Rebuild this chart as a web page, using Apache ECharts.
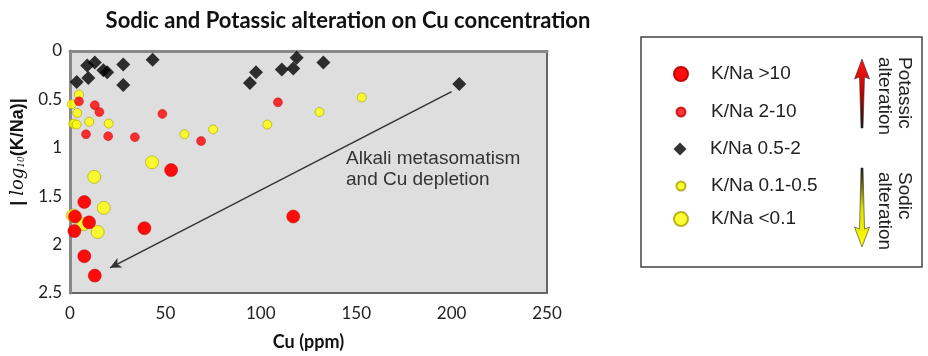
<!DOCTYPE html>
<html>
<head>
<meta charset="utf-8">
<script src="https://cdn.jsdelivr.net/npm/echarts@6/dist/echarts.min.js"></script>
<style>
  html, body { margin: 0; padding: 0; background: #fff; }
  #chart { width: 928px; height: 356px; }
</style>
</head>
<body>
<div id="chart"></div>
<script>
// Cu (ppm), |log10(K/Na)|
var bigRed = [[53, 1.23], [7.5, 1.56], [2.6, 1.71], [10, 1.77], [2.3, 1.86], [39, 1.83], [7.5, 2.12], [13, 2.32], [117, 1.71]];
var smallRed = [[4.7, 0.52], [13, 0.56], [15.4, 0.63], [8.4, 0.86], [20, 0.88], [34, 0.89], [48.4, 0.65], [68.7, 0.93], [109, 0.53]];
var diamonds = [[3.5, 0.32], [9, 0.15], [13, 0.12], [9.6, 0.28], [17.5, 0.2], [19.5, 0.22], [27.9, 0.14], [27.9, 0.35],
  [43.3, 0.09], [94.3, 0.33], [97.5, 0.22], [111, 0.19], [117, 0.18], [118.8, 0.07], [132.8, 0.12], [204, 0.34]];
var smallYellow = [[4.7, 0.45], [0.9, 0.55], [3.8, 0.64], [1.7, 0.75], [3.5, 0.76], [10.1, 0.73], [20.3, 0.75],
  [60, 0.86], [75, 0.81], [103.4, 0.76], [130.7, 0.63], [152.9, 0.48]];
var bigYellow = [[43, 1.15], [12.7, 1.3], [17.7, 1.62], [14.5, 1.87], [7, 1.79], [1.5, 1.7]];
var trendArrow = [[200, 0.42], [21, 2.24]];

var names = ["K/Na >10", "K/Na 2-10", "K/Na 0.5-2", "K/Na 0.1-0.5", "K/Na <0.1"];
var xTicks = [0, 50, 100, 150, 200, 250];
var yTicks = [0, 0.5, 1, 1.5, 2, 2.5];

var chart = echarts.init(document.getElementById("chart"));

// one legend per row so rows sit where the reference has them
var legendRows = [74, 112, 149, 186, 219];
var legendSizes = [14, 9, 13, 9, 14];
var legends = names.map(function (n, i) {
  var s = legendSizes[i];
  return {
    data: [n],
    orient: "vertical",
    padding: 0,
    left: 680 - s / 2,
    top: legendRows[i] - 11,
    itemWidth: s,
    itemHeight: s,
    selectedMode: false,
    textStyle: { fontFamily: "Liberation Sans", fontSize: 19, color: "#222", lineHeight: 22,
      padding: [0, 0, 0, 25 - s / 2] }
  };
});

// arrow shapes in the legend box (decoration)
function arrow(cx, yTip, yEnd, up) {
  var d = up ? 1 : -1;
  return [
    [cx, yTip],
    [cx + 7.5, yTip + d * 20],
    [cx + 2.5, yTip + d * 18],
    [cx + 1, yEnd],
    [cx - 1, yEnd],
    [cx - 2.5, yTip + d * 18],
    [cx - 7.5, yTip + d * 20]
  ];
}

var option = {
  backgroundColor: "#fff",
  animation: false,
  title: {
    text: "Sodic and Potassic alteration on Cu concentration",
    left: 343,
    top: 5,
    textAlign: "center",
    textStyle: { fontFamily: "Lato", fontWeight: "bold", fontSize: 22, color: "#111" }
  },
  legend: legends,
  grid: {
    left: 70, right: 381, top: 51, bottom: 63,
    show: true,
    backgroundColor: "#dedede",
    borderColor: "#666",
    borderWidth: 2
  },
  xAxis: {
    type: "value",
    min: 0, max: 250, interval: 50,
    name: "Cu (ppm)",
    nameLocation: "middle",
    nameGap: 40,
    nameTextStyle: { fontFamily: "Lato", fontWeight: "bold", fontSize: 18, color: "#111" },
    axisLine: { show: true, lineStyle: { color: "#888", width: 3 } },
    axisTick: { show: false },
    splitLine: { show: false },
    axisLabel: { margin: 12, fontFamily: "Lato", fontSize: 17, color: "#222",
      formatter: function (v) { return xTicks.indexOf(v) >= 0 ? String(v) : ""; } }
  },
  yAxis: {
    type: "value",
    inverse: true,
    min: 0, max: 2.5, interval: 0.5,
    name: "{n|| }{i|log}{s|10}{n|(K/Na)|}",
    nameLocation: "middle",
    nameRotate: 90,
    nameGap: 43,
    nameTextStyle: {
      padding: [0, 0, 0, 40],
      rich: {
        n: { fontFamily: "Liberation Sans", fontWeight: "bold", fontSize: 18, color: "#111" },
        i: { fontFamily: "DejaVu Serif", fontStyle: "italic", fontSize: 18, color: "#111" },
        s: { fontFamily: "DejaVu Serif", fontStyle: "italic", fontSize: 9, color: "#111", padding: [8, 0, 0, 0] }
      }
    },
    axisLine: { show: true, lineStyle: { color: "#888", width: 3 } },
    axisTick: { show: false },
    splitLine: { show: false },
    axisLabel: { margin: 8, fontFamily: "Lato", fontSize: 17, color: "#222",
      formatter: function (v) { return yTicks.indexOf(v) >= 0 ? String(v) : ""; } }
  },
  series: [
    {
      name: names[4], type: "scatter", data: bigYellow, symbol: "circle", symbolSize: 13,
      itemStyle: { color: "#ffff00", borderColor: "#a8a000", borderWidth: 0.8 }
    },
    {
      name: names[3], type: "scatter", data: smallYellow, symbol: "circle", symbolSize: 9,
      itemStyle: { color: "#ffff00", borderColor: "#a8a000", borderWidth: 0.8 }
    },
    {
      name: names[2], type: "scatter", data: diamonds, symbol: "diamond", symbolSize: 14,
      itemStyle: { color: "#000" },
      markLine: {
        silent: true,
        symbol: ["none", "arrow"],
        symbolSize: [8, 11],
        label: { show: false },
        lineStyle: { color: "#333", width: 1.5, type: "solid" },
        data: [[{ coord: trendArrow[0] }, { coord: trendArrow[1] }]]
      }
    },
    {
      name: names[1], type: "scatter", data: smallRed, symbol: "circle", symbolSize: 9,
      itemStyle: { color: "#ff0000", borderColor: "#c00000", borderWidth: 0.5 }
    },
    {
      name: names[0], type: "scatter", data: bigRed, symbol: "circle", symbolSize: 13,
      itemStyle: { color: "#ff0000", borderColor: "#c00000", borderWidth: 0.5, opacity: 0.95 }
    }
  ],
  graphic: [
    {
      type: "text", left: 346, top: 148, z: 10,
      style: { text: "Alkali metasomatism\nand Cu depletion", fontFamily: "Liberation Sans", fontSize: 19,
        lineHeight: 21, fill: "#333" }
    },
    {
      type: "rect", shape: { x: 641, y: 37, width: 281, height: 230 },
      style: { fill: "none", stroke: "#444", lineWidth: 1.5 }
    },
    {
      type: "polygon", shape: { points: arrow(862, 59, 128, true) },
      style: {
        stroke: "#333", lineWidth: 0.6,
        fill: new echarts.graphic.LinearGradient(0, 0, 0, 1, [
          { offset: 0, color: "#ff1a1a" }, { offset: 0.5, color: "#c00000" }, { offset: 1, color: "#111" }])
      }
    },
    {
      type: "polygon", shape: { points: arrow(862, 247, 168, false) },
      style: {
        stroke: "#333", lineWidth: 0.6,
        fill: new echarts.graphic.LinearGradient(0, 0, 0, 1, [
          { offset: 0, color: "#111" }, { offset: 0.5, color: "#e0e000" }, { offset: 1, color: "#ffff00" }])
      }
    },
    {
      type: "text", x: 914, y: 57, rotation: -Math.PI / 2,
      style: { text: "Potassic\nalteration", fontFamily: "Liberation Sans", fontSize: 19, lineHeight: 20,
        fill: "#222", align: "left", verticalAlign: "top" }
    },
    {
      type: "text", x: 914, y: 172, rotation: -Math.PI / 2,
      style: { text: "Sodic\nalteration", fontFamily: "Liberation Sans", fontSize: 19, lineHeight: 20,
        fill: "#222", align: "left", verticalAlign: "top" }
    }
  ]
};

chart.setOption(option);
</script>
</body>
</html>
